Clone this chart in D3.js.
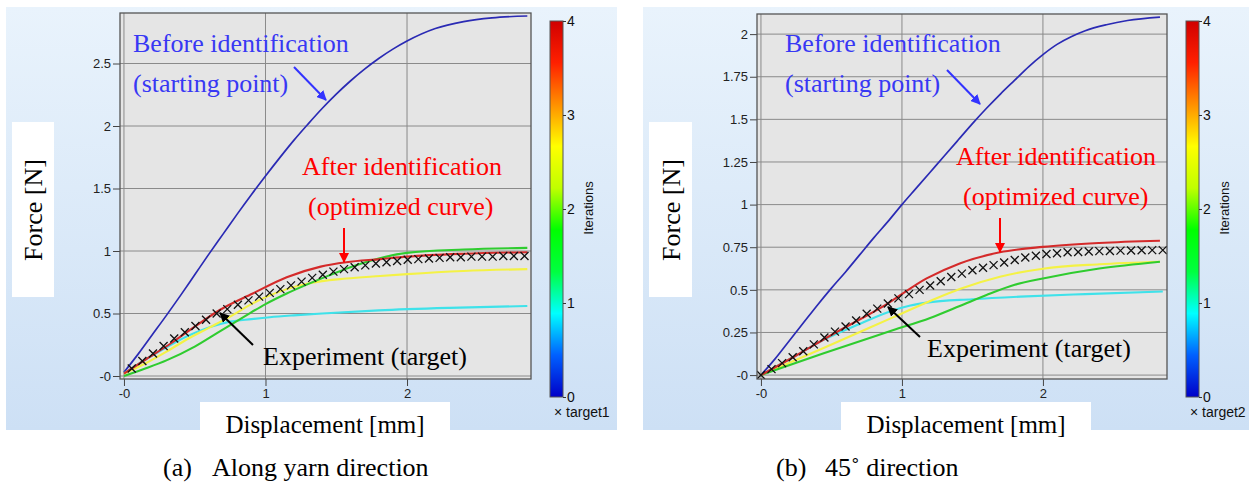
<!DOCTYPE html>
<html>
<head>
<meta charset="utf-8">
<script src="https://cdn.jsdelivr.net/npm/d3@7"></script>
<style>
  body { margin: 0; background: #fff; }
  svg { display: block; }
</style>
</head>
<body>
<svg></svg>
<script>
// iteration colours (0..4)
const iterColors = ["#2a2ab4", "#3fe2ea", "#2fcc2f", "#f4f245", "#d42a2a"];

// (a) along yarn direction
const xTicksA = [0, 1, 2];
const xTickLabelsA = ["-0", "1", "2"];
const yTicksA = [0, 0.5, 1, 1.5, 2, 2.5];
const yTickLabelsA = ["-0", "0.5", "1", "1.5", "2", "2.5"];
const iter0A = [[0,0.03],[0.1,0.175],[0.2,0.33],[0.3,0.485],[0.4,0.645],[0.5,0.81],[0.6,0.975],[0.7,1.135],[0.8,1.295],[0.9,1.45],[1.0,1.6],[1.1,1.745],[1.2,1.885],[1.3,2.015],[1.4,2.14],[1.5,2.255],[1.6,2.36],[1.7,2.455],[1.8,2.54],[1.9,2.615],[2.0,2.68],[2.2,2.78],[2.4,2.835],[2.6,2.865],[2.85,2.88]];
const iter1A = [[0,0.02],[0.15,0.13],[0.3,0.23],[0.45,0.32],[0.59,0.385],[0.75,0.435],[0.9,0.455],[1.03,0.47],[1.2,0.485],[1.4,0.5],[1.8,0.525],[2.3,0.545],[2.85,0.56]];
const iter2A = [[0,0.0],[0.15,0.06],[0.3,0.125],[0.5,0.235],[0.66,0.345],[0.85,0.475],[1.0,0.575],[1.15,0.66],[1.3,0.735],[1.45,0.805],[1.6,0.87],[1.8,0.94],[2.0,0.985],[2.4,1.012],[2.85,1.025]];
const iter3A = [[0,0.02],[0.15,0.1],[0.3,0.195],[0.44,0.29],[0.6,0.385],[0.75,0.475],[0.9,0.575],[1.03,0.645],[1.15,0.695],[1.29,0.738],[1.57,0.78],[1.81,0.8],[2.0,0.815],[2.4,0.84],[2.85,0.855]];
const iter4A = [[0,0.02],[0.15,0.13],[0.33,0.26],[0.5,0.395],[0.68,0.53],[0.91,0.66],[1.15,0.79],[1.39,0.875],[1.57,0.91],[1.81,0.935],[2.0,0.955],[2.4,0.978],[2.85,0.99]];
const target1X = [0.055,0.13,0.205,0.28,0.355,0.43,0.505,0.58,0.655,0.73,0.805,0.88,0.955,1.03,1.105,1.18,1.255,1.33,1.405,1.48,1.555,1.63,1.705,1.78,1.855,1.93,2.005,2.08,2.155,2.23,2.305,2.38,2.455,2.53,2.605,2.68,2.755,2.83];
const target1Y = [0.06,0.12,0.18,0.24,0.3,0.35,0.4,0.45,0.5,0.535,0.57,0.605,0.635,0.665,0.695,0.725,0.755,0.785,0.81,0.835,0.855,0.87,0.885,0.9,0.91,0.92,0.93,0.935,0.94,0.945,0.95,0.95,0.955,0.955,0.955,0.96,0.96,0.96];

// (b) 45 degree direction
const xTicksB = [0, 1, 2];
const xTickLabelsB = ["-0", "1", "2"];
const yTicksB = [0, 0.25, 0.5, 0.75, 1, 1.25, 1.5, 1.75, 2];
const yTickLabelsB = ["-0", "0.25", "0.5", "0.75", "1", "1.25", "1.5", "1.75", "2"];
const iter0B = [[0,0],[0.1,0.095],[0.2,0.2],[0.3,0.305],[0.4,0.41],[0.5,0.51],[0.6,0.605],[0.7,0.705],[0.8,0.805],[0.9,0.9],[1.0,1.0],[1.1,1.095],[1.2,1.19],[1.3,1.285],[1.4,1.38],[1.5,1.475],[1.6,1.565],[1.7,1.65],[1.8,1.73],[1.9,1.81],[2.0,1.88],[2.1,1.94],[2.2,1.985],[2.3,2.02],[2.45,2.055],[2.6,2.08],[2.83,2.1]];
const iter1B = [[0,0],[0.25,0.115],[0.44,0.205],[0.7,0.3],[0.94,0.38],[1.06,0.408],[1.175,0.425],[1.5,0.445],[1.84,0.46],[2.3,0.475],[2.85,0.49]];
const iter2B = [[0,0],[0.44,0.127],[0.94,0.264],[1.2,0.335],[1.41,0.405],[1.6,0.47],[1.8,0.53],[2.0,0.567],[2.4,0.625],[2.83,0.665]];
const iter3B = [[0,0],[0.44,0.157],[0.94,0.34],[1.2,0.435],[1.41,0.505],[1.695,0.577],[2.0,0.624],[2.4,0.65],[2.83,0.665]];
const iter4B = [[0,0],[0.25,0.115],[0.5,0.235],[0.89,0.415],[1.175,0.567],[1.41,0.655],[1.695,0.72],[2.0,0.752],[2.4,0.775],[2.83,0.788]];
const target2X = [0,0.075,0.15,0.225,0.3,0.375,0.45,0.525,0.6,0.675,0.75,0.825,0.9,0.975,1.05,1.125,1.2,1.275,1.35,1.425,1.5,1.575,1.65,1.725,1.8,1.875,1.95,2.025,2.1,2.175,2.25,2.325,2.4,2.475,2.55,2.625,2.7,2.775,2.85];
const target2Y = [0,0.035,0.07,0.105,0.14,0.18,0.22,0.255,0.285,0.32,0.36,0.39,0.42,0.45,0.475,0.5,0.525,0.55,0.575,0.595,0.615,0.63,0.645,0.66,0.675,0.69,0.7,0.71,0.715,0.72,0.722,0.725,0.727,0.728,0.73,0.731,0.732,0.733,0.733];

const colorTicks = [0, 1, 2, 3, 4];

const sans = "Liberation Sans, Arial, sans-serif";
const serif = "Liberation Serif, Times New Roman, serif";

const svg = d3.select("svg").attr("width", 1249).attr("height", 484);
const defs = svg.append("defs");

const bgGrad = defs.append("linearGradient").attr("id", "bg")
    .attr("x1", 0).attr("y1", 0).attr("x2", 0).attr("y2", 1);
bgGrad.append("stop").attr("offset", 0).attr("stop-color", "#e9f3fc");
bgGrad.append("stop").attr("offset", 1).attr("stop-color", "#cde0f5");

const cbGrad = defs.append("linearGradient").attr("id", "cb")
    .attr("x1", 0).attr("y1", 1).attr("x2", 0).attr("y2", 0);
["#0000c8", "#0060ff", "#00ffff", "#00ff40", "#00ff00", "#c0ff00", "#ffff00", "#ff9000", "#ff2000", "#d00000"]
    .forEach((c, i, a) => cbGrad.append("stop").attr("offset", i / (a.length - 1)).attr("stop-color", c));

["blue", "red", "black"].forEach(c => {
    defs.append("marker").attr("id", "arrow-" + c)
        .attr("viewBox", "0 0 10 10").attr("refX", 9).attr("refY", 5)
        .attr("markerWidth", 5).attr("markerHeight", 5).attr("orient", "auto")
        .attr("markerUnits", "strokeWidth")
        .append("path").attr("d", "M0,0L10,5L0,10z")
        .attr("fill", c == "blue" ? "#3333ff" : c == "red" ? "#ff0000" : "#000");
});

function drawPanel(p) {
    const g = svg.append("g");
    g.append("rect").attr("x", p.bg[0]).attr("y", p.bg[1]).attr("width", p.bg[2]).attr("height", p.bg[3])
        .attr("fill", "url(#bg)");

    const x = d3.scaleLinear().domain(p.xDomain).range([p.left, p.right]);
    const y = d3.scaleLinear().domain(p.yDomain).range([p.bottom, p.top]);

    g.append("rect").attr("x", p.left).attr("y", p.top)
        .attr("width", p.right - p.left).attr("height", p.bottom - p.top)
        .attr("fill", "#e5e5e5");

    // grid
    g.selectAll(".gx").data(p.xTicks).enter().append("line")
        .attr("x1", d => x(d)).attr("x2", d => x(d)).attr("y1", p.top).attr("y2", p.bottom)
        .attr("stroke", "#8a8a8a").attr("stroke-width", 1);
    g.selectAll(".gy").data(p.yTicks).enter().append("line")
        .attr("y1", d => y(d)).attr("y2", d => y(d)).attr("x1", p.left).attr("x2", p.right)
        .attr("stroke", "#8a8a8a").attr("stroke-width", 1);

    // axes
    const xAxis = d3.axisBottom(x).tickValues(p.xTicks)
        .tickFormat((d, i) => p.xTickLabels[i]).tickSize(7).tickSizeOuter(0);
    const yAxis = d3.axisLeft(y).tickValues(p.yTicks)
        .tickFormat((d, i) => p.yTickLabels[i]).tickSize(7).tickSizeOuter(0).tickPadding(2);
    [g.append("g").attr("transform", `translate(0,${p.bottom})`).call(xAxis),
     g.append("g").attr("transform", `translate(${p.left},0)`).call(yAxis)].forEach(a => {
        a.select(".domain").remove();
        a.selectAll("line").attr("stroke", "#444");
        a.selectAll("text").attr("font-family", sans).attr("font-size", 13).attr("fill", "#222");
    });

    const clipId = "clip" + p.id;
    defs.append("clipPath").attr("id", clipId).append("rect")
        .attr("x", p.left).attr("y", p.top).attr("width", p.right - p.left).attr("height", p.bottom - p.top);
    const plot = g.append("g").attr("clip-path", `url(#${clipId})`);

    const line = d3.line().x(d => x(d[0])).y(d => y(d[1])).curve(d3.curveMonotoneX);
    // drawn order: 0, 1, 3, 2, 4 so red stays on top
    [0, 1, 3, 2, 4].forEach(i => {
        plot.append("path").datum(p.series[i]).attr("d", line)
            .attr("fill", "none").attr("stroke", iterColors[i])
            .attr("stroke-width", i == 0 ? 1.7 : 2.1);
    });

    plot.selectAll(".tgt").data(p.targetX).enter().append("path")
        .attr("transform", (d, i) => `translate(${x(d)},${y(p.targetY[i])})`)
        .attr("d", "M-4,-4L4,4M-4,4L4,-4")
        .attr("stroke", "#111").attr("stroke-width", 1.3).attr("fill", "none");

    g.append("rect").attr("x", p.left).attr("y", p.top)
        .attr("width", p.right - p.left).attr("height", p.bottom - p.top)
        .attr("fill", "none").attr("stroke", "#555").attr("stroke-width", 1.3);

    // colour bar
    const cb = d3.scaleLinear().domain([0, 4]).range([p.cb[2], p.cb[1]]);
    g.append("rect").attr("x", p.cb[0]).attr("y", p.cb[1]).attr("width", 13)
        .attr("height", p.cb[2] - p.cb[1]).attr("fill", "url(#cb)")
        .attr("stroke", "#555").attr("stroke-width", 1);
    const cbAxis = g.append("g").attr("transform", `translate(${p.cb[0] + 13},0)`)
        .call(d3.axisRight(cb).tickValues(colorTicks).tickFormat(d3.format("d")).tickSize(3).tickPadding(1));
    cbAxis.select(".domain").remove();
    cbAxis.selectAll("line").attr("stroke", "#333");
    cbAxis.selectAll("text").attr("font-family", sans).attr("font-size", 14).attr("fill", "#111");
    g.append("text").attr("transform", `translate(${p.cb[0] + 43},208) rotate(-90)`)
        .attr("text-anchor", "middle").attr("font-family", sans)
        .attr("font-size", 13).attr("fill", "#111").text("Iterations");
    g.append("text").attr("x", p.cb[0] + 4).attr("y", 417)
        .attr("font-family", sans).attr("font-size", 14).attr("fill", "#111").text("× " + p.targetName);

    // axis titles in white boxes
    g.append("rect").attr("x", p.yBox[0]).attr("y", 122).attr("width", p.yBox[1]).attr("height", 175).attr("fill", "#fff");
    g.append("text").attr("transform", `translate(${p.yBox[0] + p.yBox[1] / 2 + 9},210) rotate(-90)`)
        .attr("text-anchor", "middle").attr("font-family", serif)
        .attr("font-size", 26).attr("fill", "#000").text("Force [N]");
    g.append("rect").attr("x", p.xBox).attr("y", 402).attr("width", 250).attr("height", 39).attr("fill", "#fff");
    g.append("text").attr("x", p.xBox + 125).attr("y", 433)
        .attr("text-anchor", "middle").attr("font-family", serif)
        .attr("font-size", 25).attr("fill", "#000").text("Displacement [mm]");

    // annotations
    const ann = (tx, ty, t, c) => g.append("text").attr("x", tx).attr("y", ty)
        .attr("font-family", serif).attr("font-size", 26).attr("fill", c).text(t);
    ann(p.before, 52, "Before identification", "#3838f4");
    ann(p.before, 92, "(starting point)", "#3838f4");
    ann(p.after[0], p.after[1], "After identification", "#ff0000");
    ann(p.after[2], p.after[1] + 40, "(optimized curve)", "#ff0000");
    ann(p.exp[0], p.exp[1], "Experiment (target)", "#000");

    const arrow = (a, c, col) => g.append("line")
        .attr("x1", a[0]).attr("y1", a[1]).attr("x2", a[2]).attr("y2", a[3])
        .attr("stroke", col).attr("stroke-width", 2).attr("marker-end", `url(#arrow-${c})`);
    arrow(p.blueArrow, "blue", "#3333ff");
    arrow(p.redArrow, "red", "#ff0000");
    arrow(p.blackArrow, "black", "#000");

    // caption
    g.append("text").attr("x", p.caption[0]).attr("y", 476)
        .attr("font-family", serif).attr("font-size", 26).attr("fill", "#000").text(p.caption[1]);
    g.append("text").attr("x", p.caption[0] + 49).attr("y", 476)
        .attr("font-family", serif).attr("font-size", 26).attr("fill", "#000").text(p.caption[2]);
}

drawPanel({
    id: "A", bg: [6, 7, 611, 423],
    left: 120, right: 531, top: 13, bottom: 379,
    xDomain: [-0.028, 2.876], yDomain: [-0.024, 2.904],
    xTicks: xTicksA, xTickLabels: xTickLabelsA, yTicks: yTicksA, yTickLabels: yTickLabelsA,
    series: [iter0A, iter1A, iter2A, iter3A, iter4A],
    targetX: target1X, targetY: target1Y, targetName: "target1",
    cb: [550, 21, 397],
    yBox: [12, 42], xBox: 200,
    before: 133, after: [302, 175, 308], exp: [263, 365],
    blueArrow: [294, 67, 326, 100], redArrow: [344, 228, 344, 262], blackArrow: [253, 345, 220, 313],
    caption: [163, "(a)", "Along yarn direction"]
});

drawPanel({
    id: "B", bg: [643, 7, 606, 423],
    left: 757, right: 1167, top: 14, bottom: 379,
    xDomain: [-0.028, 2.88], yDomain: [-0.023, 2.118],
    xTicks: xTicksB, xTickLabels: xTickLabelsB, yTicks: yTicksB, yTickLabels: yTickLabelsB,
    series: [iter0B, iter1B, iter2B, iter3B, iter4B],
    targetX: target2X, targetY: target2Y, targetName: "target2",
    cb: [1186, 21, 397],
    yBox: [649, 43], xBox: 841,
    before: 785, after: [956, 165, 963], exp: [927, 357],
    blueArrow: [947, 70, 980, 104], redArrow: [1000, 218, 1000, 252], blackArrow: [920, 337, 888, 307],
    caption: [776, "(b)", "45˚ direction"]
});
</script>
</body>
</html>
